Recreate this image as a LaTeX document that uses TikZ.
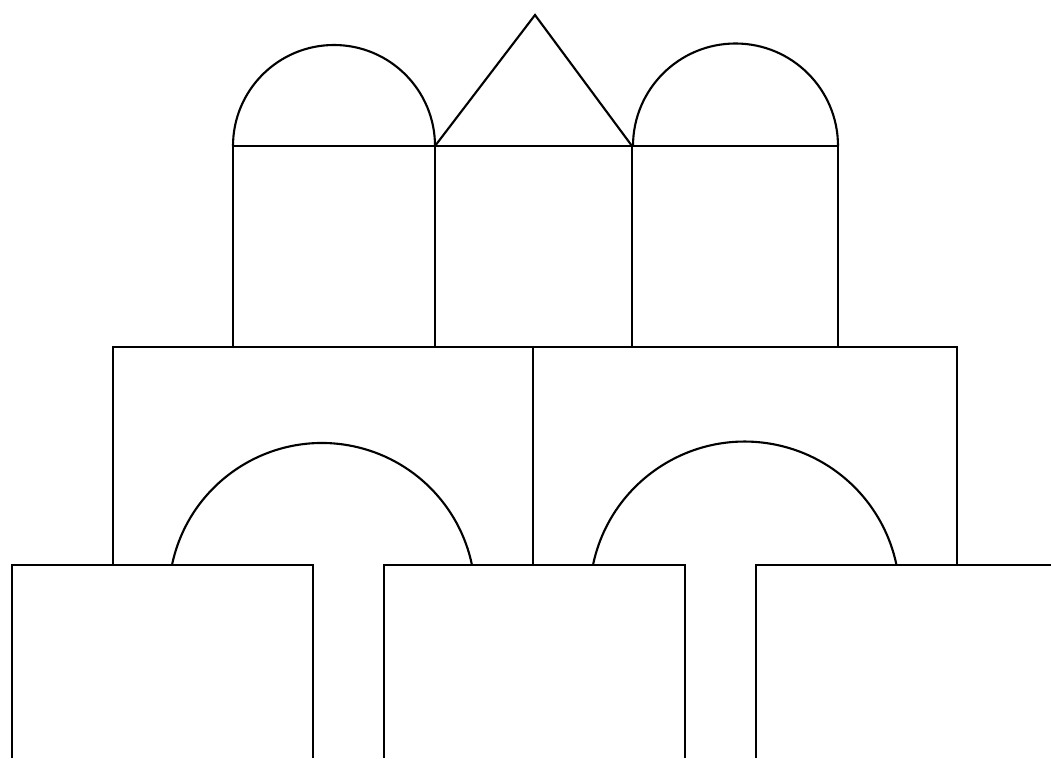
\documentclass[tikz,border=0pt]{standalone}
\usepackage{tikz}
\begin{document}
\begin{tikzpicture}[x=0.02cm,y=0.02cm,line join=miter,
  block/.style={draw,line width=1.2pt}]
\useasboundingbox (0,0) rectangle (1051,758);
% top row: two domes and a roof
\draw[block] (233,612) arc[start angle=180,end angle=0,radius=101];
\draw[block] (435,612) -- (535,743) -- (632,612);
\draw[block] (633,612) arc[start angle=180,end angle=0,radius=102.5];
% upper blocks
\draw[block] (233,411) -- (233,612) -- (838,612) -- (838,411);
\draw[block] (435,411) -- (435,612);
\draw[block] (632,411) -- (632,612);
% middle blocks with arches
\draw[block] (113,193) -- (113,411) -- (957,411) -- (957,193);
\draw[block] (533,411) -- (533,193);
\draw[block] (172,193) arc[start angle=168.25,end angle=11.75,radius=153.2];
\draw[block] (593,193) arc[start angle=168.25,end angle=11.75,radius=155];
% bottom blocks
\draw[block] (12,0) -- (12,193) -- (313,193) -- (313,0);
\draw[block] (384,0) -- (384,193) -- (685,193) -- (685,0);
\draw[block] (756,0) -- (756,193) -- (1051,193);
\end{tikzpicture}
\end{document}
